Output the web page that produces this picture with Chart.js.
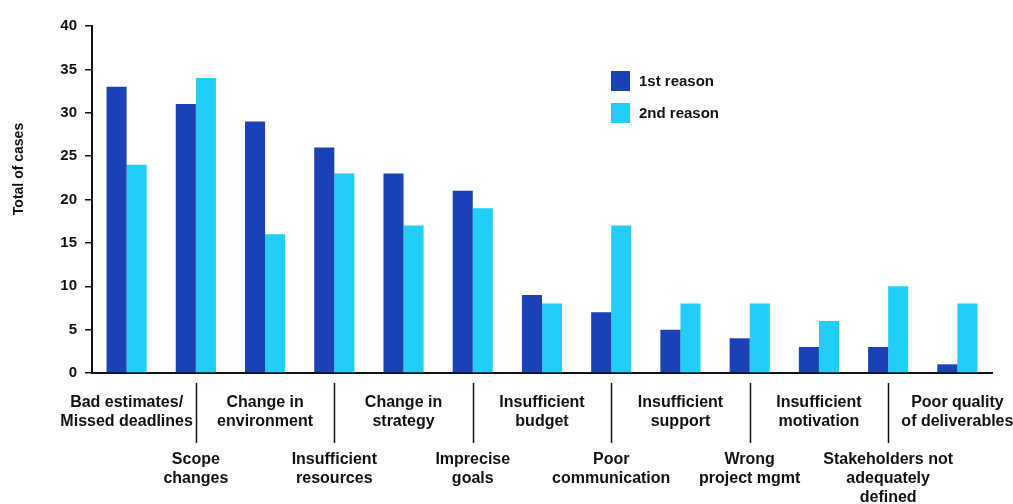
<!DOCTYPE html>
<html lang="en">

<head>
   <meta charset="UTF-8">
   <title>Reasons for project failure</title>
   <script src="https://cdn.jsdelivr.net/npm/chart.js"></script>
   <style>
      body {
         margin: 0;
         background: #ffffff;
      }

      .graph {
         width: 1013px;
         height: 504px;
      }
   </style>
</head>

<body>
   <div class="graph">
      <canvas id="myChart"></canvas>
   </div>
</body>
<script>

   // labels, the lower row ones get blank lines in front
   const categorias = [
      ["Bad estimates/", "Missed deadlines"],
      ["", "", "", "Scope", "changes"],
      ["Change in", "environment"],
      ["", "", "", "Insufficient", "resources"],
      ["Change in", "strategy"],
      ["", "", "", "Imprecise", "goals"],
      ["Insufficient", "budget"],
      ["", "", "", "Poor", "communication"],
      ["Insufficient", "support"],
      ["", "", "", "Wrong", "project mgmt"],
      ["Insufficient", "motivation"],
      ["", "", "", "Stakeholders not", "adequately", "defined"],
      ["Poor quality", "of deliverables"]
   ];

   const primeiro = [33, 31, 29, 26, 23, 21, 9, 7, 5, 4, 3, 3, 1];
   const segundo = [24, 34, 16, 23, 17, 19, 8, 17, 8, 8, 6, 10, 8];

   const yTicks = [0, 5, 10, 15, 20, 25, 30, 35, 40];

   const fonte = "'Liberation Sans', Arial, sans-serif";

   // linhas que ligam o eixo aos rotulos de baixo + legenda + titulo do eixo y
   const extras = {
      id: "extras",
      afterDraw: function (chart) {
         const ctx = chart.ctx;
         const x = chart.scales.x;
         ctx.save();

         ctx.strokeStyle = "#111111";
         ctx.lineWidth = 1.5;
         for (var i = 1; i < categorias.length; i += 2) {
            var px = Math.round(x.getPixelForValue(i)) + 0.5;
            ctx.beginPath();
            ctx.moveTo(px, chart.chartArea.bottom + 10);
            ctx.lineTo(px, chart.chartArea.bottom + 70);
            ctx.stroke();
         }

         // legenda
         ctx.font = "bold 15px " + fonte;
         ctx.textBaseline = "middle";
         ctx.textAlign = "left";
         chart.data.datasets.forEach(function (ds, j) {
            var top = 71 + j * 32;
            ctx.fillStyle = ds.backgroundColor;
            ctx.fillRect(611, top, 19, 20);
            ctx.fillStyle = "#111111";
            ctx.fillText(ds.label, 639, top + 11);
         });

         // titulo do eixo y
         ctx.translate(19, 169);
         ctx.rotate(-Math.PI / 2);
         ctx.textAlign = "center";
         ctx.font = "bold 14px " + fonte;
         ctx.fillText("Total of cases", 0, 0);

         ctx.restore();
      }
   };

   const config = {
      type: "bar",
      data: {
         labels: categorias,
         datasets: [
            {
               label: "1st reason",
               data: primeiro,
               backgroundColor: "#1b41b6"
            },
            {
               label: "2nd reason",
               data: segundo,
               backgroundColor: "#22cdf6"
            }
         ]
      },
      options: {
         responsive: true,
         maintainAspectRatio: false,
         animation: false,
         categoryPercentage: 0.58,
         barPercentage: 1.0,
         layout: {
            padding: { top: 26, right: 21, bottom: 0, left: 0 }
         },
         plugins: {
            legend: { display: false },
            tooltip: { enabled: false }
         },
         scales: {
            x: {
               grid: { drawOnChartArea: false, drawTicks: false },
               border: { color: "#111111", width: 2 },
               ticks: {
                  autoSkip: false,
                  maxRotation: 0,
                  padding: 20,
                  color: "#111111",
                  font: { family: fonte, size: 16, weight: "bold", lineHeight: "19px" }
               },
               afterFit: function (scale) {
                  scale.paddingLeft = 0;
                  scale.paddingRight = 0;
                  scale.height = 131;
               }
            },
            y: {
               min: 0,
               max: 40,
               grid: { drawOnChartArea: false, tickLength: 7, color: "#111111", lineWidth: 1.5 },
               border: { color: "#111111", width: 2 },
               afterBuildTicks: function (scale) {
                  scale.ticks = yTicks.map(function (v) { return { value: v }; });
               },
               ticks: {
                  padding: 8,
                  color: "#111111",
                  font: { family: fonte, size: 15, weight: "bold" }
               },
               afterFit: function (scale) {
                  scale.width = 92;
               }
            }
         }
      },
      plugins: [extras]
   };

   const myChart = new Chart(document.getElementById("myChart"), config);

</script>

</html>
